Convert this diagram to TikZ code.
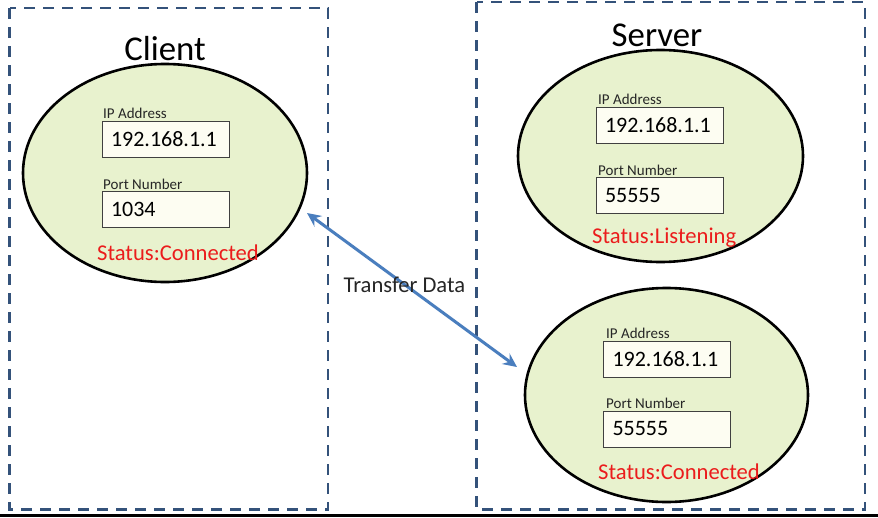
\documentclass[tikz,border=0pt]{standalone}
\usepackage{fontspec}
\setmainfont{Carlito}
\usetikzlibrary{shapes.geometric,arrows.meta}
\definecolor{dashblue}{RGB}{52,82,122}
\definecolor{ellfill}{RGB}{232,242,206}
\definecolor{boxfill}{RGB}{253,253,242}
\definecolor{statred}{RGB}{235,28,28}
\definecolor{arrblue}{RGB}{74,126,190}
\begin{document}
\begin{tikzpicture}[x=1pt,y=-1pt,
  group/.style={draw=dashblue,line width=2.6pt,dash pattern=on 11pt off 8pt},
  host/.style={ellipse,draw=black,line width=2.6pt,fill=ellfill,inner sep=0pt},
  valbox/.style={rectangle,draw=black!75,line width=1pt,fill=boxfill,minimum height=36pt,
     text width=109pt,inner xsep=9pt,align=left,font=\fontsize{22}{25}\selectfont},
  small/.style={anchor=west,inner sep=0pt,text=black!85,font=\fontsize{15}{17}\selectfont},
  status/.style={anchor=west,inner sep=0pt,text=statred,font=\fontsize{22.6}{25}\selectfont},
  title/.style={inner sep=0pt,font=\fontsize{34.8}{38}\selectfont}]
\useasboundingbox (0,0) rectangle (878,517);
\fill[white] (0,0) rectangle (878,517);
\fill[black] (0,514) rectangle (878,517);
% groups
\draw[group] (9.5,8) rectangle (328,509.5);
\draw[group] (476.5,2) rectangle (865,509.5);
\node[title] (tclient) at (165,49) {Client};
\node[title] (tserver) at (657,35) {Server};
% client
\node[host,minimum width=284pt,minimum height=218pt] (cl) at (165,173) {};
\node[small] (cl-ipl) at (103,113) {IP Address};
\node[valbox] (cl-ip) at (165.5,139) {192.168.1.1};
\node[small] (cl-ptl) at (103,184) {Port Number};
\node[valbox] (cl-pt) at (165.5,209.5) {1034};
\node[status] (cl-st) at (97,253) {Status:Connected};
% server listening
\node[host,minimum width=285pt,minimum height=212pt] (sv) at (660.5,156) {};
\node[small] (sv-ipl) at (598,99) {IP Address};
\node[valbox] (sv-ip) at (659.5,125) {192.168.1.1};
\node[small] (sv-ptl) at (598,170) {Port Number};
\node[valbox] (sv-pt) at (659.5,195.5) {55555};
\node[status] (sv-st) at (592,238) {Status:Listening};
% server connected
\node[host,minimum width=283pt,minimum height=214pt] (sc) at (666.5,395) {};
\node[small] (sc-ipl) at (606,333) {IP Address};
\node[valbox] (sc-ip) at (667,359) {192.168.1.1};
\node[small] (sc-ptl) at (606,403) {Port Number};
\node[valbox] (sc-pt) at (667,429) {55555};
\node[status] (sc-st) at (598,472) {Status:Connected};
% arrow
\coordinate (p1) at (307,213);
\coordinate (p2) at (517,367);
\draw[arrblue,line width=3pt,{Stealth[length=14pt,width=13pt,inset=5pt]}-{Stealth[length=14pt,width=13pt,inset=5pt]}]
  (p1) -- node[pos=0.464,inner sep=0pt,text=black!85,font=\fontsize{22.6}{25}\selectfont] (td) {Transfer Data} (p2);
\end{tikzpicture}
\end{document}
